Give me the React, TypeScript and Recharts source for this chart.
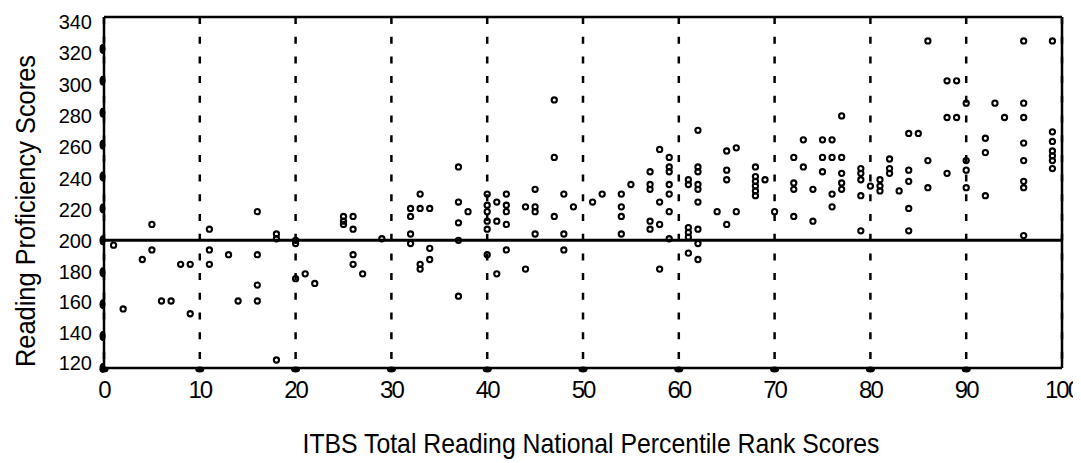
import React from 'react';
import { ScatterChart, Scatter, XAxis, YAxis, CartesianGrid, ReferenceLine } from 'recharts';

const xTicks = [0, 10, 20, 30, 40, 50, 60, 70, 80, 90, 100];
const yTicks = [120, 140, 160, 180, 200, 220, 240, 260, 280, 300, 320, 340];
const cutScore = 200;
const xTitle = 'ITBS Total Reading National Percentile Rank Scores';
const yTitle = 'Reading Proficiency Scores';

// percentile rank of each column of students
const ranks = [
  1, 2, 4, 5, 6, 7, 8, 9, 11, 13, 14, 16, 18, 20, 21, 22,
  25, 26, 27, 29, 32, 33, 34, 37, 38,
  40, 41, 42, 44, 45, 47, 48, 49, 51, 52, 54, 55, 57, 58, 59,
  61, 62, 64, 65, 66, 68, 69, 70,
  72, 73, 74, 75, 76, 77, 79,
  80, 81, 82, 83, 84, 85, 86, 88, 89, 90, 92, 93, 94, 96, 99,
];
// proficiency scores observed at each rank above
const scores = [
  [197], [157], [188], [210, 194], [162], [162], [185], [185, 154], [207, 194, 185], [191], [162],
  [218, 191, 172, 162], [204, 201, 125], [200, 198, 176], [179], [173],
  [215, 212, 210], [215, 207, 191, 185], [179], [201], [220, 215, 204, 198], [229, 220, 185, 182],
  [220, 195, 188], [246, 224, 211, 200, 165], [218],
  [229, 222, 218, 212, 207, 191], [224, 212, 179], [229, 222, 218, 210, 194], [221, 182],
  [232, 221, 218, 204], [288, 252, 215], [229, 204, 194], [221], [224], [229], [229, 221, 215, 204],
  [235], [243, 235, 232, 212, 207], [257, 224, 210, 182], [252, 246, 243, 235, 229, 218, 201],
  [238, 235, 208, 205, 202, 192], [269, 246, 243, 235, 232, 224, 207, 198, 188], [218],
  [256, 244, 238, 210], [258, 218], [246, 240, 237, 234, 231, 228], [238], [218],
  [252, 236, 232, 215], [263, 246], [232, 212], [263, 252, 243], [263, 252, 229, 221],
  [278, 252, 242, 236, 232], [245, 242, 238, 228, 206],
  [234], [238, 234, 231], [251, 245, 242], [231], [267, 244, 237, 220, 206], [267], [325, 250, 233],
  [300, 277, 242], [300, 277], [286, 250, 244, 233], [264, 255, 228], [286], [277],
  [325, 286, 277, 261, 250, 237, 233, 203], [325, 268, 262, 256, 253, 250, 245],
];

const points: { x: number; y: number }[] = [];
ranks.forEach((r, i) => scores[i].forEach((s) => points.push({ x: r, y: s })));

const FONT = '"Liberation Sans", Arial, Helvetica, sans-serif';

const YTick = (props: any) => {
  const { x, y, payload } = props;
  const v = payload.value as number;
  const shift = v >= 200 ? 0.8 + (v - 200) * 0.03 : 0.8 + (v - 200) * 0.07;
  return (
    <g>
      {v !== 340 && <ellipse cx={x - 1.5} cy={y} rx={3} ry={5} fill="#000" />}
      <text x={x - 12} y={y + shift} dy={7} textAnchor="end" fontSize={20} fontFamily={FONT} fill="#000">
        {v}
      </text>
    </g>
  );
};

const XTick = (props: any) => {
  const { x, y, payload } = props;
  return (
    <g>
      {payload.value !== 100 && <ellipse cx={x} cy={y + 1.5} rx={4.5} ry={3} fill="#000" />}
      <text x={x} y={y + 30} textAnchor="middle" fontSize={24} letterSpacing={-2} fontFamily={FONT} fill="#000">
        {payload.value}
      </text>
    </g>
  );
};

const Dot = (props: any) => (
  <circle cx={props.cx} cy={props.cy} r={2.6} fill="none" stroke="#000" strokeWidth={2.1} />
);

const YTitle = () => (
  <text
    x={27}
    y={203}
    transform="rotate(-90 27 203)"
    textAnchor="middle"
    fontSize={28}
    fontFamily={FONT}
    textLength={312}
    lengthAdjust="spacingAndGlyphs"
    fill="#000"
  >
    {yTitle}
  </text>
);

const XTitle = () => (
  <text
    x={583}
    y={445}
    textAnchor="middle"
    fontSize={28}
    fontFamily={FONT}
    textLength={577}
    lengthAdjust="spacingAndGlyphs"
    fill="#000"
  >
    {xTitle}
  </text>
);

export default function App() {
  return (
    <div style={{ width: 1073, height: 455, background: '#fff' }}>
      <ScatterChart width={1073} height={455} margin={{ top: 9, right: 19, bottom: 55, left: 36 }}>
        <CartesianGrid
          horizontal={false}
          stroke="#000"
          strokeWidth={2.5}
          strokeDasharray="7 12.7"
        />
        <XAxis
          type="number"
          dataKey="x"
          domain={[0, 100]}
          ticks={xTicks}
          interval={0}
          height={40}
          tickSize={0}
          tickMargin={0}
          axisLine={{ stroke: '#000', strokeWidth: 2.5 }}
          tickLine={false}
          tick={<XTick />}
          label={<XTitle />}
        />
        <YAxis
          type="number"
          dataKey="y"
          domain={[120, 340]}
          ticks={yTicks}
          interval={0}
          width={60}
          tickSize={0}
          tickMargin={0}
          axisLine={{ stroke: '#000', strokeWidth: 2.5 }}
          tickLine={false}
          tick={<YTick />}
          label={<YTitle />}
        />
        <ReferenceLine y={340} stroke="#000" strokeWidth={2.5} />
        <ReferenceLine x={100} stroke="#000" strokeWidth={2.5} />
        <ReferenceLine y={cutScore} stroke="#000" strokeWidth={3} />
        <Scatter data={points} shape={<Dot />} isAnimationActive={false} />
      </ScatterChart>
    </div>
  );
}
